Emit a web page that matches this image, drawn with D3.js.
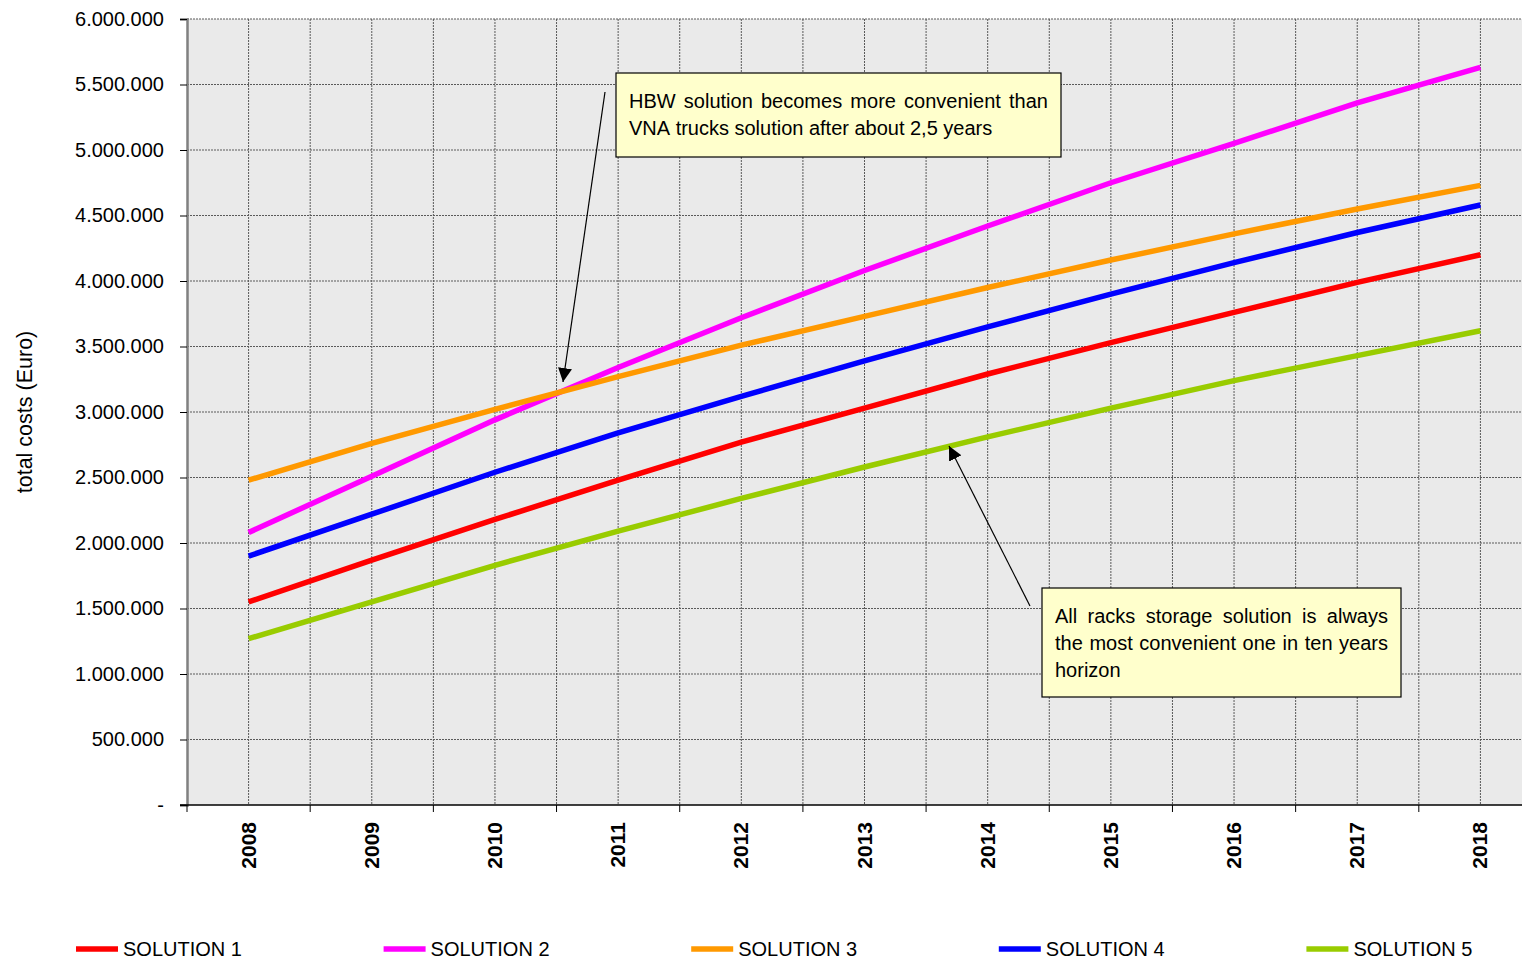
<!DOCTYPE html>
<html>
<head>
<meta charset="utf-8">
<script src="https://cdn.jsdelivr.net/npm/d3@7"></script>
<style>
  body { margin: 0; background: #fff; }
  svg { display: block; font-family: "Liberation Sans", Arial, sans-serif; }
</style>
</head>
<body>
<div id="chart"></div>
<script>
// ==================== données ====================//
const years = ["2008", "2009", "2010", "2011", "2012", "2013", "2014", "2015", "2016", "2017", "2018"];

const solution1 = [1550000, 1870000, 2180000, 2480000, 2770000, 3030000, 3290000, 3530000, 3760000, 3990000, 4200000];
const solution2 = [2080000, 2510000, 2940000, 3340000, 3720000, 4080000, 4420000, 4750000, 5050000, 5360000, 5630000];
const solution3 = [2480000, 2760000, 3020000, 3270000, 3510000, 3730000, 3950000, 4160000, 4360000, 4550000, 4730000];
const solution4 = [1900000, 2220000, 2540000, 2840000, 3120000, 3390000, 3650000, 3900000, 4140000, 4370000, 4580000];
const solution5 = [1270000, 1550000, 1830000, 2090000, 2340000, 2580000, 2810000, 3030000, 3240000, 3430000, 3620000];

const seriesNames = ["SOLUTION 1", "SOLUTION 2", "SOLUTION 3", "SOLUTION 4", "SOLUTION 5"];
const seriesColors = ["#FF0000", "#FF00FF", "#FF9900", "#0000FF", "#99CC00"];
const seriesValues = [solution1, solution2, solution3, solution4, solution5];

const yTicks = [0, 500000, 1000000, 1500000, 2000000, 2500000, 3000000, 3500000, 4000000, 4500000, 5000000, 5500000, 6000000];

const note1 = ["HBW solution becomes more convenient than", "VNA trucks solution after about 2,5 years"];
const note2 = ["All racks storage solution is always", "the most convenient one in ten years", "horizon"];

// ==================== svg ====================//
const width = 1522;
const height = 960;

const svg = d3.select("#chart")
    .append("svg")
    .attr("width", width)
    .attr("height", height);

const plot = { left: 187, top: 19, right: 1542, bottom: 805 };

const x = d3.scaleBand()
    .domain(years)
    .range([plot.left, plot.right])
    .padding(0);

const y = d3.scaleLinear()
    .domain([0, 6000000])
    .range([plot.bottom, plot.top]);

const xc = d => x(d) + x.bandwidth() / 2;

// fond gris
svg.append("rect")
    .attr("x", plot.left)
    .attr("y", plot.top)
    .attr("width", plot.right - plot.left)
    .attr("height", plot.bottom - plot.top)
    .attr("fill", "#EAEAEA");

// grille horizontale
svg.append("g")
    .selectAll("line")
    .data(yTicks.filter(d => d > 0))
    .join("line")
    .attr("x1", plot.left)
    .attr("x2", plot.right)
    .attr("y1", d => y(d))
    .attr("y2", d => y(d))
    .attr("stroke", "#5a5a5a")
    .attr("stroke-width", 1)
    .attr("stroke-dasharray", "2,1");

// grille verticale (bord + centre de chaque année)
const vGrid = [];
years.forEach(d => { vGrid.push(x(d)); vGrid.push(xc(d)); });

svg.append("g")
    .selectAll("line")
    .data(vGrid.filter(v => v > plot.left))
    .join("line")
    .attr("x1", d => d)
    .attr("x2", d => d)
    .attr("y1", plot.top)
    .attr("y2", plot.bottom)
    .attr("stroke", "#5a5a5a")
    .attr("stroke-width", 1)
    .attr("stroke-dasharray", "2,1");

// ==================== axes ====================//
const yAxis = svg.append("g")
    .attr("transform", `translate(${plot.left},0)`)
    .call(d3.axisLeft(y)
        .tickValues(yTicks)
        .tickSize(7)
        .tickPadding(16)
        .tickFormat(d => d === 0 ? "-" : d3.format(",")(d).replace(/,/g, ".")));

yAxis.select(".domain").attr("stroke", "#808080").attr("stroke-width", 2.5);
yAxis.selectAll(".tick line").attr("stroke", "#000");
yAxis.selectAll(".tick text")
    .attr("font-size", 20)
    .attr("fill", "#000")
    .attr("font-family", "Liberation Sans, Arial, sans-serif");

// axe x: traits aux limites des années
svg.append("line")
    .attr("x1", plot.left - 7)
    .attr("x2", plot.right)
    .attr("y1", plot.bottom)
    .attr("y2", plot.bottom)
    .attr("stroke", "#000")
    .attr("stroke-width", 1.5);

svg.append("g")
    .selectAll("line")
    .data(years)
    .join("line")
    .attr("x1", d => x(d))
    .attr("x2", d => x(d))
    .attr("y1", plot.bottom)
    .attr("y2", plot.bottom + 7)
    .attr("stroke", "#000");

svg.append("g")
    .selectAll("text")
    .data(years)
    .join("text")
    .attr("transform", d => `translate(${xc(d) + 7},822) rotate(-90)`)
    .attr("text-anchor", "end")
    .attr("font-size", 21)
    .attr("font-weight", "bold")
    .text(d => d);

svg.append("text")
    .attr("transform", "translate(32,412) rotate(-90)")
    .attr("text-anchor", "middle")
    .attr("font-size", 21.5)
    .text("total costs (Euro)");

// ==================== courbes ====================//
const line = d3.line()
    .x((d, i) => xc(years[i]))
    .y(d => y(d));

svg.append("g")
    .selectAll("path")
    .data(seriesValues)
    .join("path")
    .attr("d", d => line(d))
    .attr("fill", "none")
    .attr("stroke", (d, i) => seriesColors[i])
    .attr("stroke-width", 5.5);

// ==================== annotations ====================//
svg.append("defs").append("marker")
    .attr("id", "arrow")
    .attr("viewBox", "0 0 10 10")
    .attr("refX", 10)
    .attr("refY", 5)
    .attr("markerWidth", 14)
    .attr("markerHeight", 14)
    .attr("markerUnits", "userSpaceOnUse")
    .attr("orient", "auto")
    .append("path")
    .attr("d", "M0,0 L10,5 L0,10 z")
    .attr("fill", "#000");

// texte justifié: un tspan par mot
function drawNote(bx, by, bw, bh, lines, justified) {
    svg.append("rect")
        .attr("x", bx).attr("y", by)
        .attr("width", bw).attr("height", bh)
        .attr("fill", "#FFFFCC")
        .attr("stroke", "#000")
        .attr("stroke-width", 1.2);

    const pad = 13;
    const inner = bw - 2 * pad;
    lines.forEach((txt, li) => {
        const words = txt.split(" ");
        const g = svg.append("text")
            .attr("font-size", 20)
            .attr("y", by + 35 + li * 27);
        const spans = words.map(w => g.append("tspan").text(w));
        const widths = spans.map(s => s.node().getComputedTextLength());
        const total = d3.sum(widths);
        let gap = 5.5;
        if (justified[li] && words.length > 1) gap = (inner - total) / (words.length - 1);
        let cx = bx + pad;
        spans.forEach((s, i) => {
            s.attr("x", cx);
            cx += widths[i] + gap;
        });
    });
}

drawNote(616, 73, 445, 84, note1, [true, false]);
drawNote(1042, 588, 359, 109, note2, [true, true, false]);

svg.append("line")
    .attr("x1", 605).attr("y1", 92)
    .attr("x2", 563).attr("y2", 382)
    .attr("stroke", "#000")
    .attr("stroke-width", 1.2)
    .attr("marker-end", "url(#arrow)");

svg.append("line")
    .attr("x1", 1030).attr("y1", 606)
    .attr("x2", 949).attr("y2", 446)
    .attr("stroke", "#000")
    .attr("stroke-width", 1.2)
    .attr("marker-end", "url(#arrow)");

// ==================== légende ====================//
const legend = svg.append("g")
    .selectAll("g")
    .data(seriesNames)
    .join("g")
    .attr("transform", (d, i) => `translate(${76 + i * 307.6},949)`);

legend.append("line")
    .attr("x1", 0).attr("x2", 42)
    .attr("y1", 0).attr("y2", 0)
    .attr("stroke", (d, i) => seriesColors[i])
    .attr("stroke-width", 5.5);

legend.append("text")
    .attr("x", 47)
    .attr("y", 7)
    .attr("font-size", 20)
    .text(d => d);
</script>
</body>
</html>
